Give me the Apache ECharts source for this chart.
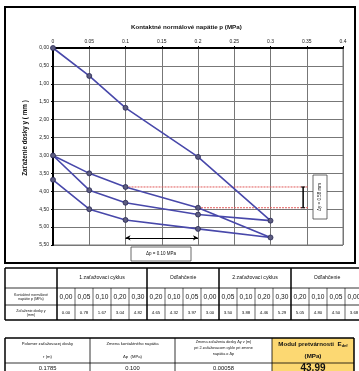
<!DOCTYPE html>
<html>
<head>
<meta charset="utf-8">
<script src="https://cdn.jsdelivr.net/npm/echarts@6/dist/echarts.min.js"></script>
<style>
  html, body { margin: 0; padding: 0; background: #fff; }
  #chart { width: 359px; height: 371px; }
</style>
</head>
<body>
<div id="chart"></div>
<script>
// measured loading / unloading path, in test order
const pressure = [0.00, 0.05, 0.10, 0.20, 0.30, 0.20, 0.10, 0.05, 0.00, 0.05, 0.10, 0.20, 0.30, 0.20, 0.10, 0.05, 0.00];
const settlement = [0.00, 0.78, 1.67, 3.04, 4.82, 4.65, 4.32, 3.97, 3.00, 3.50, 3.88, 4.46, 5.29, 5.05, 4.80, 4.50, 3.68];
const cycleNames = ["1.zaťažovací cyklus", "Odľahčenie", "2.zaťažovací cyklus", "Odľahčenie"];
const cycleSizes = [5, 4, 4, 4];
const rowLabels = [["Kontaktné normálové", "napätie p (MPa)"], ["Zaťaženie dosky y", "(mm)"]];
const summaryHeaders = [
  ["Polomer zaťažovacej dosky", "r (m)"],
  ["Zmena kontaktného napätia", "Δp  (MPa)"],
  ["Zmena zaťaženia dosky Δy v (m)", "pri 2.zaťažovacom cykle pri zmene", "napätia o Δp"]
];
const summaryValues = ["0.1785", "0.100", "0.00058", "43.99"];

// the two points of the 2nd loading cycle used for Δp / Δy
const iA = 10, iB = 11;
const dp = pressure[iB] - pressure[iA];
const dy = settlement[iB] - settlement[iA];

const FONT = '"Liberation Sans", Arial, sans-serif';
const chart = echarts.init(document.getElementById("chart"));

function txt(x, y, s, size, extra) {
  return Object.assign({
    type: "text", x: x, y: y, z: 20,
    style: {
      text: s, fontSize: size, fontFamily: FONT, fill: "#111",
      align: "center", verticalAlign: "middle",
      textAlign: "center", textVerticalAlign: "middle"
    }
  }, extra || {});
}
function ln(x1, y1, x2, y2, w) {
  return { type: "line", z: 20, shape: { x1: x1, y1: y1, x2: x2, y2: y2 }, style: { stroke: "#000", lineWidth: w } };
}

const g = [];
// chart area frame
g.push({ type: "rect", z: 1, shape: { x: 5, y: 7, width: 350, height: 256 }, style: { fill: "none", stroke: "#000", lineWidth: 2 } });
g.push(txt(25, 138, "Zaťaženie dosky y ( mm )", 6.3, { rotation: Math.PI / 2, style: { text: "Zaťaženie dosky y ( mm )", fontSize: 6.3, fontWeight: "bold", fontFamily: FONT, fill: "#111", align: "center", verticalAlign: "middle", textAlign: "center", textVerticalAlign: "middle" } }));

// Δp box
g.push({ type: "rect", z: 20, shape: { x: 131, y: 247, width: 60, height: 14 }, style: { fill: "#fff", stroke: "#444", lineWidth: 0.8 } });
g.push(txt(161, 254, "Δp = " + dp.toFixed(2) + " MPa", 4.5));
// Δy box
g.push({ type: "rect", z: 20, shape: { x: 313, y: 175, width: 14, height: 44 }, style: { fill: "#fff", stroke: "#444", lineWidth: 0.8 } });
g.push(txt(320, 197, "", 4.5, { rotation: Math.PI / 2, style: { text: "Δy = " + dy.toFixed(2) + " mm", fontSize: 4.5, fontFamily: FONT, fill: "#111", align: "center", verticalAlign: "middle", textAlign: "center", textVerticalAlign: "middle" } }));

// table 1
const t1 = { top: 268, r1: 288, r2: 305, bottom: 320, left: 5, firstR: 57, colW: 18 };
const nCols = pressure.length;
const t1Right = t1.firstR + nCols * t1.colW;
g.push(ln(t1.left, t1.top, t1Right, t1.top, 1.5));
g.push(ln(t1.left, t1.bottom, t1Right, t1.bottom, 1.5));
g.push(ln(t1.left, t1.r1, t1Right, t1.r1, 0.8));
g.push(ln(t1.left, t1.r2, t1Right, t1.r2, 0.8));
g.push(ln(t1.left, t1.top, t1.left, t1.bottom, 1.5));
g.push(ln(t1.firstR, t1.top, t1.firstR, t1.bottom, 1.5));
let col = 0;
cycleSizes.forEach(function (n, k) {
  const x0 = t1.firstR + col * t1.colW;
  const x1 = x0 + n * t1.colW;
  g.push(txt((x0 + x1) / 2, (t1.top + t1.r1) / 2, cycleNames[k], 5.2));
  g.push(ln(x1, t1.top, x1, t1.bottom, 1.5));
  for (let j = 1; j < n; j++) {
    const xs = x0 + j * t1.colW;
    g.push(ln(xs, t1.r1, xs, t1.bottom, 0.6));
  }
  col += n;
});
pressure.forEach(function (p, i) {
  const cx = t1.firstR + (i + 0.5) * t1.colW;
  g.push(txt(cx, (t1.r1 + t1.r2) / 2 + 0.5, p.toFixed(2).replace(".", ","), 6.6));
  g.push(txt(cx, (t1.r2 + t1.bottom) / 2, settlement[i].toFixed(2), 4.4));
});
g.push(txt(31, (t1.r1 + t1.r2) / 2, rowLabels[0].join("\n"), 3.6, {}));
g.push(txt(31, (t1.r2 + t1.bottom) / 2, rowLabels[1].join("\n"), 3.6, {}));

// table 2
const t2 = { top: 338, mid: 363, bottom: 380, cols: [5, 90, 175, 272, 354] };
g.push({ type: "rect", z: 15, shape: { x: t2.cols[3], y: t2.top, width: t2.cols[4] - t2.cols[3], height: t2.bottom - t2.top }, style: { fill: "#fcd872", stroke: "none" } });
g.push(ln(t2.cols[0], t2.top, t2.cols[4], t2.top, 1.5));
g.push(ln(t2.cols[0], t2.mid, t2.cols[4], t2.mid, 0.8));
t2.cols.forEach(function (x, k) {
  g.push(ln(x, t2.top, x, t2.bottom, k === 0 || k === 4 ? 1.5 : 0.8));
});
summaryHeaders.forEach(function (lines, k) {
  const cx = (t2.cols[k] + t2.cols[k + 1]) / 2;
  if (lines.length === 2) {
    g.push(txt(cx, 344, lines[0], 4.2));
    g.push(txt(cx, 357, lines[1], 4.2));
  } else {
    lines.forEach(function (s, j) { g.push(txt(cx, 342 + j * 6, s, 3.8)); });
  }
});
const c4 = (t2.cols[3] + t2.cols[4]) / 2;
g.push({
  type: "text", x: c4, y: 344, z: 20,
  style: {
    text: "{a|Modul pretvárnosti  E}{b|def}",
    align: "center", verticalAlign: "middle", textAlign: "center", textVerticalAlign: "middle",
    rich: {
      a: { fontSize: 6.2, fontWeight: "bold", fontFamily: FONT, fill: "#111" },
      b: { fontSize: 4, fontWeight: "bold", fontFamily: FONT, fill: "#111", padding: [4, 0, 0, 0] }
    }
  }
});
g.push(txt(c4, 356, "(MPa)", 6.2, { style: { text: "(MPa)", fontSize: 6.2, fontWeight: "bold", fontFamily: FONT, fill: "#111", align: "center", verticalAlign: "middle", textAlign: "center", textVerticalAlign: "middle" } }));
summaryValues.forEach(function (v, k) {
  const cx = (t2.cols[k] + t2.cols[k + 1]) / 2;
  if (k === 3) {
    g.push(txt(cx, 368, v, 10, { style: { text: v, fontSize: 10, fontWeight: "bold", fontFamily: FONT, fill: "#111", align: "center", verticalAlign: "middle", textAlign: "center", textVerticalAlign: "middle" } }));
  } else {
    g.push(txt(cx, 368, v, 5.8));
  }
});

const option = {
  animation: false,
  backgroundColor: "#fff",
  title: {
    text: "Kontaktné normálové napätie p (MPa)",
    left: 126, top: 19,
    textStyle: { fontSize: 6.2, fontWeight: "bold", fontFamily: FONT, color: "#111" }
  },
  grid: { left: 53, right: 16, top: 48, bottom: 126, show: true, borderColor: "#777", borderWidth: 1 },
  xAxis: {
    type: "value", position: "top", min: 0, max: 0.4, interval: 0.05,
    axisLine: { show: true, onZero: false, lineStyle: { color: "#000", width: 2 } },
    axisTick: { show: true, length: 2, lineStyle: { color: "#000" } },
    axisLabel: { fontSize: 5, margin: 4, color: "#222", fontFamily: FONT, formatter: function (v) { return String(+v.toFixed(2)); } },
    splitLine: { show: true, lineStyle: { color: "#777", width: 1 } }
  },
  yAxis: {
    type: "value", inverse: true, min: 0, max: 5.5, interval: 0.5,
    axisLine: { show: true, onZero: false, lineStyle: { color: "#000", width: 2 } },
    axisTick: { show: true, length: 2, lineStyle: { color: "#000" } },
    axisLabel: { fontSize: 5, margin: 4, color: "#222", fontFamily: FONT, formatter: function (v) { return v.toFixed(2).replace(".", ","); } },
    splitLine: { show: true, lineStyle: { color: "#777", width: 1 } }
  },
  series: [
    {
      type: "line", z: 3,
      data: [[pressure[iA], settlement[iA]], [0.352, settlement[iA]]],
      symbol: "none", lineStyle: { color: "#e05a5a", width: 1, type: [2, 1] }
    },
    {
      type: "line", z: 3,
      data: [[pressure[iB], settlement[iB]], [0.352, settlement[iB]]],
      symbol: "none", lineStyle: { color: "#e05a5a", width: 1, type: [2, 1] }
    },
    {
      type: "line", z: 4,
      data: [[0.345, settlement[iA]], [0.345, settlement[iB]]],
      symbol: "rect", symbolSize: [4, 1],
      itemStyle: { color: "#000" },
      lineStyle: { color: "#000", width: 1.5 }
    },
    {
      type: "line", z: 4, data: [],
      markLine: {
        silent: true, symbol: ["arrow", "arrow"], symbolSize: [4, 5],
        label: { show: false },
        lineStyle: { color: "#000", width: 1.2, type: "solid" },
        data: [[{ coord: [pressure[iA], 5.3] }, { coord: [pressure[iB], 5.3] }]]
      }
    },
    {
      type: "line", z: 5,
      data: pressure.map(function (p, i) { return [p, settlement[i]]; }),
      symbol: "circle", symbolSize: 5,
      lineStyle: { color: "#4848aa", width: 1.6 },
      itemStyle: { color: "#5c5c80", borderColor: "#2a2a55", borderWidth: 0.8 }
    }
  ],
  graphic: g
};

chart.setOption(option);
</script>
</body>
</html>
